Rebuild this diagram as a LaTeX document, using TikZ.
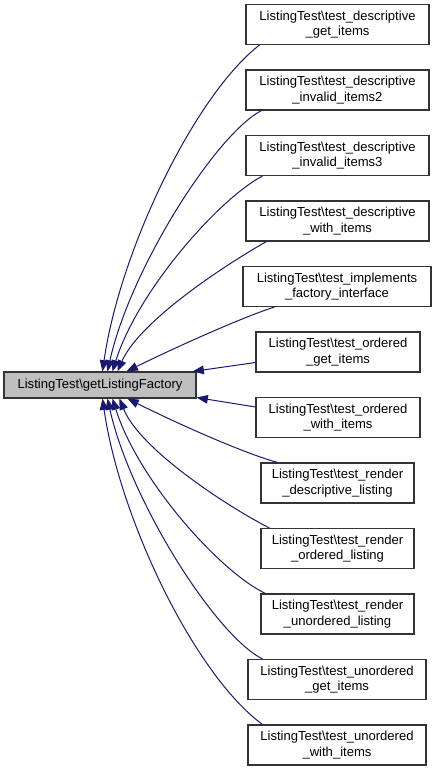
\documentclass[tikz,border=0pt]{standalone}
\usepackage{fontspec}
\setmainfont{Liberation Sans}
\usetikzlibrary{calc,arrows.meta}
\definecolor{edgeblue}{RGB}{25,25,112}
\definecolor{maingray}{RGB}{191,191,191}
\tikzset{
  box/.style={draw=black!80, line width=0.8pt, fill=white, minimum height=30pt,
    inner sep=0pt, align=center, font=\fontsize{9.8}{11.8}\selectfont},
  mainbox/.style={box, fill=maingray, minimum height=19.5pt, minimum width=144pt},
  wA/.style={minimum width=137.25pt},
  wB/.style={minimum width=141pt},
  wC/.style={minimum width=123pt},
  wD/.style={minimum width=114.75pt},
  wE/.style={minimum width=133.5pt},
  edge/.style={draw=edgeblue, line width=0.75pt, -{Triangle[length=8.5pt,width=6.5pt]}, fill=none},
}
\begin{document}
\begin{tikzpicture}[x=0.75pt,y=-0.75pt]
\useasboundingbox (0,0) rectangle (436,771);
\node[mainbox] (main) at (100,385) {ListingTest\textbackslash getListingFactory};
\node[box,wA] (b1) at (337.5,24.5) {ListingTest\textbackslash test\_descriptive\\\_get\_items};
\node[box,wA] (b2) at (337.5,90) {ListingTest\textbackslash test\_descriptive\\\_invalid\_items2};
\node[box,wA] (b3) at (337.5,155.5) {ListingTest\textbackslash test\_descriptive\\\_invalid\_items3};
\node[box,wA] (b4) at (337.5,221) {ListingTest\textbackslash test\_descriptive\\\_with\_items};
\node[box,wB] (b5) at (337,286.5) {ListingTest\textbackslash test\_implements\\\_factory\_interface};
\node[box,wC] (b6) at (338,352) {ListingTest\textbackslash test\_ordered\\\_get\_items};
\node[box,wC] (b7) at (338,417.5) {ListingTest\textbackslash test\_ordered\\\_with\_items};
\node[box,wD] (b8) at (337.5,483) {ListingTest\textbackslash test\_render\\\_descriptive\_listing};
\node[box,wD] (b9) at (337.5,548.5) {ListingTest\textbackslash test\_render\\\_ordered\_listing};
\node[box,wD] (b10) at (337.5,614) {ListingTest\textbackslash test\_render\\\_unordered\_listing};
\node[box,wE] (b11) at (337,679.5) {ListingTest\textbackslash test\_unordered\\\_get\_items};
\node[box,wE] (b12) at (337,745) {ListingTest\textbackslash test\_unordered\\\_with\_items};

\draw[edge] ($(b1.south west)+(14,0)$) .. controls (195,95) and (120,250) .. ($(main.north west)+(99,0)$);
\draw[edge] ($(b2.south west)+(16,0)$) .. controls (215,135) and (130,270) .. ($(main.north west)+(104,0)$);
\draw[edge] ($(b3.south west)+(17,0)$) .. controls (220,198) and (138,290) .. ($(main.north west)+(109,0)$);
\draw[edge] ($(b4.south west)+(21,0)$) .. controls (230,262) and (140,320) .. ($(main.north west)+(114,0)$);
\draw[edge] ($(b5.south west)+(32,0)$) .. controls (240,318) and (170,350) .. ($(main.north west)+(123,0)$);
\draw[edge] ($(b6.west)+(0,10.5)$) -- ($(main.north east)+(-4,0)$);
\draw[edge] ($(b7.west)+(0,-10.5)$) -- ($(main.south east)+(0,-1)$);
\draw[edge] ($(b8.north west)+(17,0)$) .. controls (240,452) and (170,420) .. ($(main.south west)+(124,0)$);
\draw[edge] ($(b9.north west)+(9,0)$) .. controls (230,508) and (140,450) .. ($(main.south west)+(116,0)$);
\draw[edge] ($(b10.north west)+(5,0)$) .. controls (220,572) and (138,480) .. ($(main.south west)+(109,0)$);
\draw[edge] ($(b11.north west)+(15,0)$) .. controls (215,635) and (130,500) .. ($(main.south west)+(104,0)$);
\draw[edge] ($(b12.north west)+(15,0)$) .. controls (195,675) and (120,520) .. ($(main.south west)+(99,0)$);
\end{tikzpicture}
\end{document}
